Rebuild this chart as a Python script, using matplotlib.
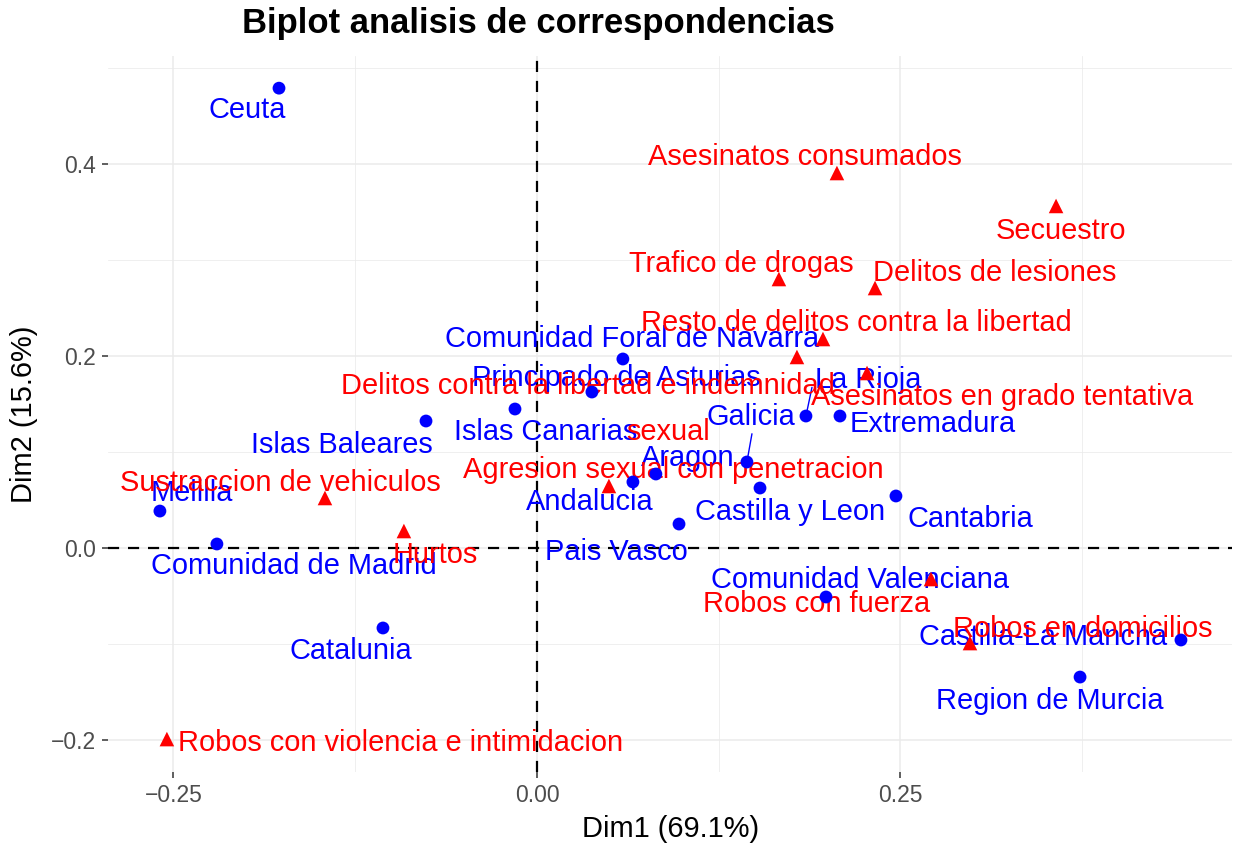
import matplotlib
matplotlib.use("Agg")
import matplotlib.pyplot as plt
from matplotlib.ticker import FixedLocator

# Row coordinates (regions) on the first two dimensions
row_names = [
    "Ceuta", "Melilla", "Comunidad de Madrid", "Catalunia", "Islas Baleares",
    "Islas Canarias", "Principado de Asturias", "Comunidad Foral de Navarra",
    "Andalucia", "Aragon", "Pais Vasco", "Galicia", "Castilla y Leon",
    "La Rioja", "Extremadura", "Cantabria", "Comunidad Valenciana",
    "Region de Murcia", "Castilla-La Mancha",
]
row_dim1 = [-0.1774, -0.2593, -0.2201, -0.1059, -0.0763,
            -0.0151, 0.0378, 0.0591,
            0.0660, 0.0818, 0.0977, 0.1444, 0.1534,
            0.1850, 0.2084, 0.2469, 0.1988,
            0.3735, 0.4429]
row_dim2 = [0.4790, 0.0385, 0.0042, -0.0833, 0.1323,
            0.1448, 0.1625, 0.1969,
            0.0688, 0.0771, 0.0250, 0.0896, 0.0625,
            0.1375, 0.1375, 0.0542, -0.0510,
            -0.1344, -0.0958]

# Column coordinates (crime types)
col_names = [
    "Asesinatos consumados", "Secuestro", "Trafico de drogas",
    "Delitos de lesiones", "Resto de delitos contra la libertad",
    "Delitos contra la libertad e indemnidad sexual",
    "Asesinatos en grado tentativa", "Agresion sexual con penetracion",
    "Sustraccion de vehiculos", "Hurtos", "Robos con fuerza",
    "Robos en domicilios", "Robos con violencia e intimidacion",
]
col_dim1 = [0.2063, 0.3570, 0.1664,
            0.2325, 0.1967,
            0.1788,
            0.2270, 0.0495,
            -0.1458, -0.0915, 0.2710,
            0.2978, -0.2545]
col_dim2 = [0.3906, 0.3563, 0.2802,
            0.2708, 0.2177,
            0.1990,
            0.1823, 0.0646,
            0.0521, 0.0177, -0.0323,
            -0.0990, -0.1990]

title = "Biplot analisis de correspondencias"
xlab = "Dim1 (69.1%)"
ylab = "Dim2 (15.6%)"

# Label placement (pixel offsets from each mark: right, down)
row_offsets = {
    "Ceuta": (-32, 20), "Melilla": (32, -20), "Comunidad de Madrid": (77, 20),
    "Catalunia": (-32, 21), "Islas Baleares": (-84, 22),
    "Islas Canarias": (31, 21), "Principado de Asturias": (24, -16),
    "Comunidad Foral de Navarra": (9, -22), "Andalucia": (-43, 18),
    "Aragon": (32, -18), "Pais Vasco": (-63, 26), "Galicia": (4, -47),
    "Castilla y Leon": (30, 22), "La Rioja": (62, -38),
    "Extremadura": (93, 6), "Cantabria": (74, 21),
    "Comunidad Valenciana": (34, -19), "Region de Murcia": (-30, 22),
    "Castilla-La Mancha": (-138, -5),
}
col_offsets = {
    "Asesinatos consumados": (-32, -18), "Secuestro": (5, 23),
    "Trafico de drogas": (-38, -17), "Delitos de lesiones": (120, -17),
    "Resto de delitos contra la libertad": (33, -18),
    "Asesinatos en grado tentativa": (135, 22),
    "Agresion sexual con penetracion": (64, -18),
    "Sustraccion de vehiculos": (-45, -17), "Hurtos": (31, 22),
    "Robos con fuerza": (-114, 23), "Robos en domicilios": (113, -16),
    "Robos con violencia e intimidacion": (234, 2),
}
# Labels broken over two lines: offsets for each line
wrapped_offsets = {
    "Delitos contra la libertad e indemnidad sexual": [(-209, 27), (-129, 73)],
}
# Connector segments: where they leave the label box
segment_anchor = {"Galicia": (0.52, 0.05), "La Rioja": (-0.02, 0.35)}
text_shift = 2  # small downward nudge of every label, px

plt.rcParams["font.family"] = ["Liberation Sans", "DejaVu Sans"]

W, H = 1236, 844
fig = plt.figure(figsize=(W / 100, H / 100), dpi=100)
fig.patch.set_facecolor("white")
left, right, top, bottom = 108, 1232, 56, 772
ax = fig.add_axes([left / W, 1 - bottom / H, (right - left) / W, (bottom - top) / H])

ax.set_xlim(-0.2950, 0.4780)
ax.set_ylim(-0.2333, 0.5125)

for s in ax.spines.values():
    s.set_visible(False)

ax.xaxis.set_major_locator(FixedLocator([-0.25, 0.0, 0.25]))
ax.xaxis.set_minor_locator(FixedLocator([-0.125, 0.125, 0.375]))
ax.yaxis.set_major_locator(FixedLocator([-0.2, 0.0, 0.2, 0.4]))
ax.yaxis.set_minor_locator(FixedLocator([-0.1, 0.1, 0.3, 0.5]))
ax.set_xticklabels(["\u22120.25", "0.00", "0.25"])
ax.set_yticklabels(["\u22120.2", "0.0", "0.2", "0.4"])
ax.grid(True, which="major", color="#EBEBEB", lw=1.1, zorder=0)
ax.grid(True, which="minor", color="#EBEBEB", lw=0.55, zorder=0)
ax.set_axisbelow(True)
ax.tick_params(which="major", length=4.5, width=1.1, color="#333333",
               labelcolor="#4D4D4D", labelsize=16.5, pad=4)
ax.tick_params(which="minor", length=0)

ax.axvline(0, color="black", lw=1.6, ls=(0, (5, 4)), zorder=1)
ax.axhline(0, color="black", lw=1.6, ls=(0, (5, 4)), zorder=1)

label_fs = 20.9

# Row labels
for name, x, y in zip(row_names, row_dim1, row_dim2):
    dx, dy = row_offsets[name]
    kw = {}
    if name in segment_anchor:
        kw["arrowprops"] = dict(arrowstyle="-", color="blue", lw=1.0,
                                shrinkA=0, shrinkB=4,
                                relpos=segment_anchor[name])
    ax.annotate(name, (x, y), xytext=(dx, -(dy + text_shift)),
                textcoords="offset pixels", ha="center", va="center",
                color="blue", fontsize=label_fs, zorder=3, **kw)

# Column labels
for name, x, y in zip(col_names, col_dim1, col_dim2):
    if name in wrapped_offsets:
        parts = name.rsplit(" ", 1)
        pieces = zip(parts, wrapped_offsets[name])
    else:
        pieces = [(name, col_offsets[name])]
    for part, (dx, dy) in pieces:
        ax.annotate(part, (x, y), xytext=(dx, -(dy + text_shift)),
                    textcoords="offset pixels", ha="center", va="center",
                    color="red", fontsize=label_fs, zorder=3.5)

# Marks
ax.scatter(row_dim1, row_dim2, s=85, marker="o", color="blue",
           edgecolors="none", zorder=4)
ax.scatter(col_dim1, col_dim2, s=110, marker="^", color="red",
           edgecolors="none", zorder=4)

fig.text(538 / W, 1 - 24 / H, title, ha="center", va="center",
         fontsize=24.9, fontweight="bold", color="black")
fig.text(671 / W, 1 - 829 / H, xlab, ha="center", va="center",
         fontsize=20.9, color="black")
fig.text(24 / W, 1 - 414 / H, ylab, ha="center", va="center",
         rotation=90, fontsize=20.9, color="black")

fig.savefig("out.png", dpi=100, facecolor="white")
